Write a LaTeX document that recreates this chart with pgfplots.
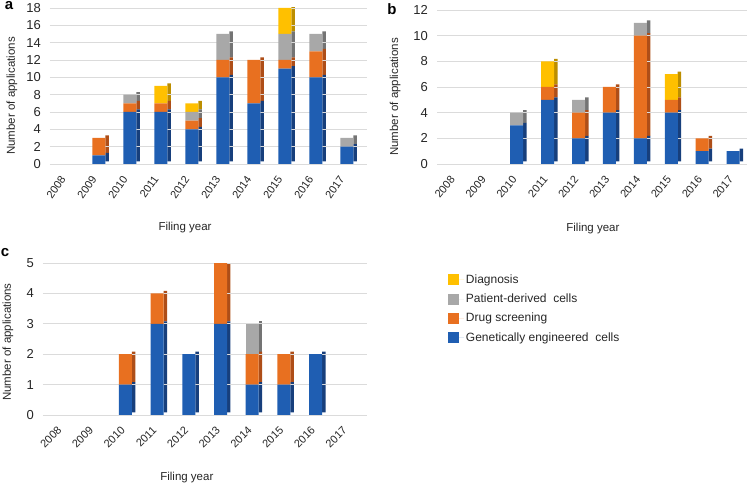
\documentclass[border=0pt]{standalone}
\usepackage{pgfplots}
\usepackage{pgfplotstable}
\pgfplotsset{compat=1.18}
\usepackage{fontspec}
\setmainfont{Liberation Sans}
\definecolor{cBlue}{HTML}{1F5EB2}
\definecolor{cOrange}{HTML}{E87020}
\definecolor{cGray}{HTML}{A8A8A8}
\definecolor{cYellow}{HTML}{FFC000}
\definecolor{dBlue}{HTML}{173F7C}
\definecolor{dOrange}{HTML}{AE4E18}
\definecolor{dGray}{HTML}{747474}
\definecolor{dYellow}{HTML}{BC8E00}
\definecolor{txt}{HTML}{262626}

\pgfplotstableread{
x b o g y
0 0 0 0 0
1 1 2 0 0
2 6 1 1 0
3 6 1 0 2
4 4 1 1 1
5 10 2 3 0
6 7 5 0 0
7 11 1 3 3
8 10 3 2 0
9 2 0 1 0
}\dataA
\pgfplotstableread{
x b o g y
0 0 0 0 0
1 0 0 0 0
2 3 0 1 0
3 5 1 0 2
4 2 2 1 0
5 4 2 0 0
6 2 8 1 0
7 4 1 0 2
8 1 1 0 0
9 1 0 0 0
}\dataB
\pgfplotstableread{
x b o g y
0 0 0 0 0
1 0 0 0 0
2 1 1 0 0
3 3 1 0 0
4 2 0 0 0
5 3 2 0 0
6 1 1 1 0
7 1 1 0 0
8 2 0 0 0
9 0 0 0 0
}\dataC

\pgfplotsset{
  base/.style={
    scale only axis,
    anchor=south west,
    ybar stacked,
    bar width=13pt,
    ymin=0,
    xtick={0,...,9},
    xticklabels={2008,2009,2010,2011,2012,2013,2014,2015,2016,2017},
    axis line style={draw=none},
    major tick length=0pt,
    ymajorgrids,
    grid style={draw=black!14, line width=0.8pt},
    xticklabel style={font=\fontsize{11}{13}\selectfont, text=txt},
    yticklabel style={font=\fontsize{13}{15}\selectfont, text=txt, anchor=east, inner sep=2pt, xshift=-7pt},
    label style={font=\fontsize{11.5}{13}\selectfont, text=txt},
    /pgf/number format/assume math mode=true,
  },
  side/.style={
    base,
    hide axis,
    bar width=3.5pt,
    bar shift=8.2pt,
    every axis plot post/.append style={yshift=2.5pt},
  },
}

\begin{document}
\begin{tikzpicture}
\useasboundingbox (0,0) rectangle (756pt,487pt);

% ---------- panel a ----------
\begin{axis}[side, at={(50pt,323pt)}, width=317pt, height=156pt,
  xmin=-0.58, xmax=9.65, ymax=18]
\addplot[fill=dBlue, draw=none] table[x=x,y=b]{\dataA};
\addplot[fill=dOrange, draw=none] table[x=x,y=o]{\dataA};
\addplot[fill=dGray, draw=none] table[x=x,y=g]{\dataA};
\addplot[fill=dYellow, draw=none] table[x=x,y=y]{\dataA};
\end{axis}
\begin{axis}[base, at={(50pt,323pt)}, width=317pt, height=156pt,
  xmin=-0.58, xmax=9.65, ymax=18, ytick={0,2,...,18},
  xticklabel style={xshift=-3pt, yshift=-10pt, rotate=55, anchor=east},
  xlabel={Filing year}, ylabel={Number of applications},
  xlabel style={at={(axis description cs:0.426,-0.41)}, anchor=center},
  ylabel style={at={(axis description cs:-0.12,0.436)}, anchor=center}]
\addplot[fill=cBlue, draw=none] table[x=x,y=b]{\dataA};
\addplot[fill=cOrange, draw=none] table[x=x,y=o]{\dataA};
\addplot[fill=cGray, draw=none] table[x=x,y=g]{\dataA};
\addplot[fill=cYellow, draw=none] table[x=x,y=y]{\dataA};
\end{axis}

% ---------- panel b ----------
\begin{axis}[side, at={(437pt,323pt)}, width=310pt, height=154pt,
  xmin=-0.58, xmax=9.45, ymax=12]
\addplot[fill=dBlue, draw=none] table[x=x,y=b]{\dataB};
\addplot[fill=dOrange, draw=none] table[x=x,y=o]{\dataB};
\addplot[fill=dGray, draw=none] table[x=x,y=g]{\dataB};
\addplot[fill=dYellow, draw=none] table[x=x,y=y]{\dataB};
\end{axis}
\begin{axis}[base, at={(437pt,323pt)}, width=310pt, height=154pt,
  xmin=-0.58, xmax=9.45, ymax=12, ytick={0,2,...,12},
  xticklabel style={yshift=-11pt, rotate=50, anchor=east},
  xlabel={Filing year}, ylabel={Number of applications},
  xlabel style={at={(axis description cs:0.503,-0.416)}, anchor=center},
  ylabel style={at={(axis description cs:-0.135,0.435)}, anchor=center}]
\addplot[fill=cBlue, draw=none] table[x=x,y=b]{\dataB};
\addplot[fill=cOrange, draw=none] table[x=x,y=o]{\dataB};
\addplot[fill=cGray, draw=none] table[x=x,y=g]{\dataB};
\addplot[fill=cYellow, draw=none] table[x=x,y=y]{\dataB};
\end{axis}

% ---------- panel c ----------
\begin{axis}[side, at={(43pt,72pt)}, width=324pt, height=152pt,
  xmin=-0.6, xmax=9.62, ymax=5]
\addplot[fill=dBlue, draw=none] table[x=x,y=b]{\dataC};
\addplot[fill=dOrange, draw=none] table[x=x,y=o]{\dataC};
\addplot[fill=dGray, draw=none] table[x=x,y=g]{\dataC};
\addplot[fill=dYellow, draw=none] table[x=x,y=y]{\dataC};
\end{axis}
\begin{axis}[base, at={(43pt,72pt)}, width=324pt, height=152pt,
  xmin=-0.6, xmax=9.62, ymax=5, ytick={0,1,...,5},
  xticklabel style={yshift=-11pt, rotate=45, anchor=east},
  xlabel={Filing year}, ylabel={Number of applications},
  xlabel style={at={(axis description cs:0.444,-0.414)}, anchor=center},
  ylabel style={at={(axis description cs:-0.108,0.48)}, anchor=center},
  reverse legend,
  legend style={at={(axis description cs:1.24,0.95)}, anchor=north west,
    draw=none, fill=none, font=\fontsize{12}{13}\selectfont, text=txt,
    row sep=5pt, cells={anchor=west}},
  legend image code/.code={\fill[#1] (0pt,-5.5pt) rectangle (11pt,5.5pt);
    \path (0pt,0pt) -- (16pt,0pt);}]
\addplot[fill=cBlue, draw=none] table[x=x,y=b]{\dataC};
\addlegendentry{Genetically engineered\ \ cells}
\addplot[fill=cOrange, draw=none] table[x=x,y=o]{\dataC};
\addlegendentry{Drug screening}
\addplot[fill=cGray, draw=none] table[x=x,y=g]{\dataC};
\addlegendentry{Patient-derived\ \ cells}
\addplot[fill=cYellow, draw=none] table[x=x,y=y]{\dataC};
\addlegendentry{Diagnosis}
\end{axis}

\node[anchor=base, font=\bfseries\fontsize{15}{15}\selectfont] at (9pt,477pt) {a};
\node[anchor=base, font=\bfseries\fontsize{15}{15}\selectfont] at (392pt,472pt) {b};
\node[anchor=base, font=\bfseries\fontsize{15}{15}\selectfont] at (5pt,230pt) {c};
\end{tikzpicture}
\end{document}
